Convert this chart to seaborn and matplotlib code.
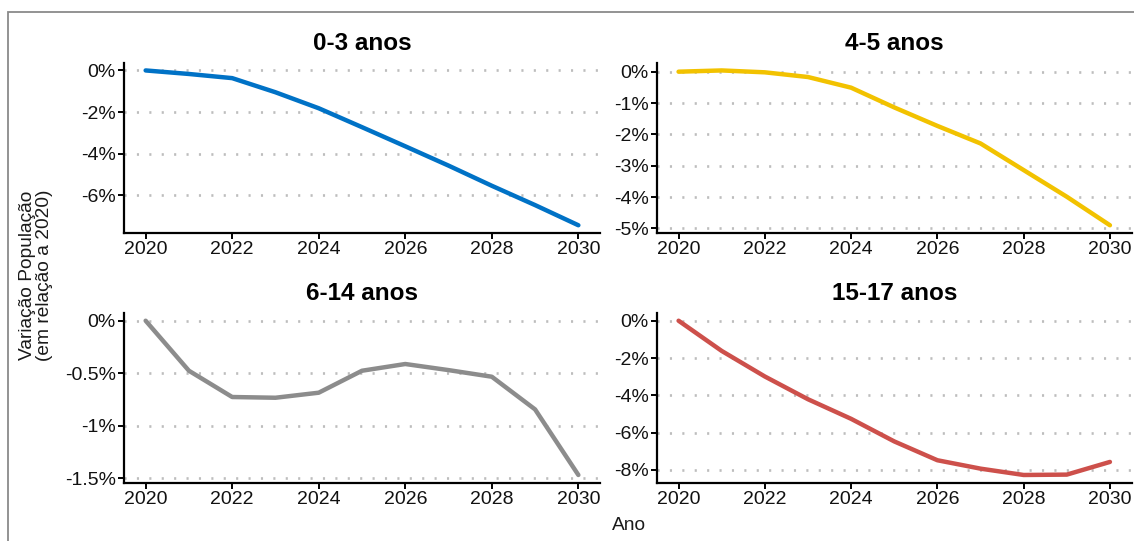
import matplotlib
matplotlib.use("Agg")
from matplotlib import pyplot as plt
from matplotlib.patches import Rectangle
from matplotlib.ticker import FuncFormatter
import pandas as pd
import seaborn as sns

anos = [2020, 2021, 2022, 2023, 2024, 2025, 2026, 2027, 2028, 2029, 2030]
v_0_3 = [0, -0.17, -0.37, -1.05, -1.82, -2.73, -3.65, -4.58, -5.55, -6.48, -7.45]
v_4_5 = [0, 0.04, -0.02, -0.17, -0.51, -1.14, -1.73, -2.29, -3.14, -3.99, -4.9]
v_6_14 = [0, -0.476, -0.726, -0.733, -0.685, -0.476, -0.412, -0.47, -0.533, -0.844, -1.468]
v_15_17 = [0, -1.62, -2.99, -4.21, -5.26, -6.47, -7.48, -7.93, -8.27, -8.25, -7.57]

grupos = ["0-3 anos", "4-5 anos", "6-14 anos", "15-17 anos"]
cores = ["#0072C6", "#F2C200", "#8C8C8C", "#CD504B"]
yticks = [[0, -2, -4, -6], [0, -1, -2, -3, -4, -5],
          [0, -0.5, -1, -1.5], [0, -2, -4, -6, -8]]

df = pd.DataFrame({
    "ano": anos * 4,
    "variacao": v_0_3 + v_4_5 + v_6_14 + v_15_17,
    "grupo": [g for g in grupos for _ in anos],
})

sns.set_theme(style="white")
plt.rcParams["font.family"] = ["Liberation Sans", "DejaVu Sans"]
plt.rcParams["axes.unicode_minus"] = False

W, H = 1134, 541
fig = plt.figure(figsize=(W / 100, H / 100), dpi=100)

# panel boxes in pixels: left, top, right, bottom
boxes = [(124, 62.7, 600, 233), (657, 62.7, 1131.5, 233),
         (124, 313, 600, 482.7), (657, 313, 1131.5, 482.7)]


def pct(v, pos):
    return ("%g" % v) + "%"


for grupo, cor, ticks, (l, t, r, b) in zip(grupos, cores, yticks, boxes):
    ax = fig.add_axes([l / W, 1 - b / H, (r - l) / W, (b - t) / H])
    sub = df[df["grupo"] == grupo]
    for y in ticks:
        ax.axhline(y, color="#BDBDBD", lw=1.9, ls=(0, (0.8, 3.9)), zorder=0)
    sns.lineplot(data=sub, x="ano", y="variacao", color=cor, lw=3.2, ax=ax)
    lo, hi = sub["variacao"].min(), sub["variacao"].max()
    pad = (hi - lo) * 0.05
    ax.set_ylim(lo - pad, hi + pad)
    ax.set_xlim(2019.5, 2030.5)
    ax.set_xticks([2020, 2022, 2024, 2026, 2028, 2030])
    ax.set_yticks(ticks)
    ax.yaxis.set_major_formatter(FuncFormatter(pct))
    ax.set_xlabel("")
    ax.set_ylabel("")
    ax.set_title(grupo, fontsize=17.5, fontweight="bold", color="black", pad=9)
    for side in ["top", "right"]:
        ax.spines[side].set_visible(False)
    for side in ["left", "bottom"]:
        ax.spines[side].set_color("black")
        ax.spines[side].set_linewidth(1.6)
    ax.tick_params(axis="both", which="major", length=4, width=1.4,
                   color="black", labelsize=14, labelcolor="#111111",
                   pad=2, left=True, bottom=True, direction="out")
    ax.set_facecolor("none")

fig.text(36 / W, 1 - 275 / H, "Variação População\n(em relação a 2020)",
         rotation=90, ha="center", va="center", fontsize=13.8,
         color="#1a1a1a", linespacing=1.0)
fig.text(612 / W, 1 - 525 / H, "Ano", ha="left", va="center",
         fontsize=13.8, color="#1a1a1a")

fig.patches.append(Rectangle((7.5 / W, -0.1), 1.2, 1 - 12 / H + 0.1,
                             transform=fig.transFigure, fill=False,
                             edgecolor="#8a8a8a", lw=1.3))

fig.savefig("out.png", dpi=100)
